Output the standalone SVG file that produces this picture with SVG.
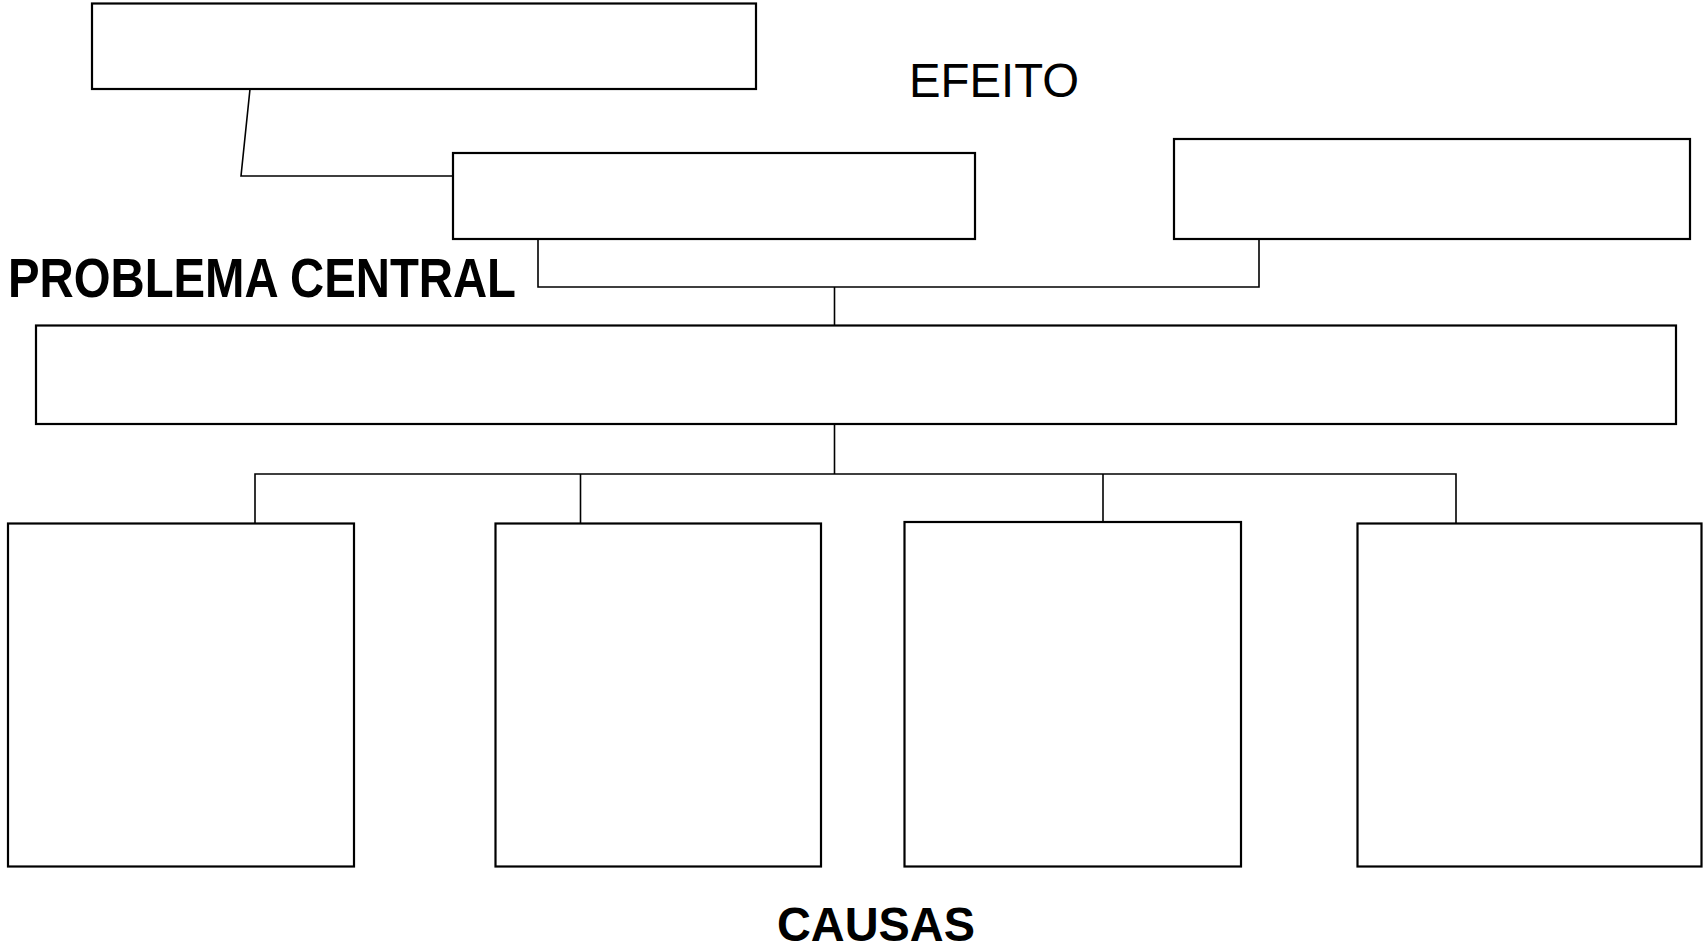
<svg xmlns="http://www.w3.org/2000/svg" width="1703" height="951" viewBox="0 0 1703 951">
<style>
.box{fill:#fff;stroke:#000;stroke-width:2.2}
.con{fill:none;stroke:#000;stroke-width:1.6}
.lbl{font-family:"Liberation Sans",Arial,sans-serif;fill:#000}
</style>
<rect width="1703" height="951" fill="#fff"/>
<g id="connectors">
<polyline class="con" points="250,89 241,176 453,176"/>
<polyline class="con" points="538,239 538,287 1259,287 1259,239"/>
<line class="con" x1="834.5" y1="287" x2="834.5" y2="325"/>
<line class="con" x1="834.5" y1="424" x2="834.5" y2="474"/>
<polyline class="con" points="255,523 255,474 1456,474 1456,523"/>
<line class="con" x1="580.5" y1="474" x2="580.5" y2="523"/>
<line class="con" x1="1103" y1="474" x2="1103" y2="522"/>
</g>
<g id="effect1"><rect class="box" x="92" y="3.5" width="664" height="85.5"/></g>
<g id="effect2"><rect class="box" x="453" y="153" width="522" height="86"/></g>
<g id="effect3"><rect class="box" x="1174" y="139" width="516" height="100"/></g>
<g id="central"><rect class="box" x="36" y="325.5" width="1640" height="98.5"/></g>
<g id="cause1"><rect class="box" x="8" y="523.5" width="346" height="343"/></g>
<g id="cause2"><rect class="box" x="495.5" y="523.5" width="325.5" height="343"/></g>
<g id="cause3"><rect class="box" x="904.5" y="522" width="336.5" height="344.5"/></g>
<g id="cause4"><rect class="box" x="1357.5" y="523.5" width="344" height="343"/></g>
<g id="labels">
<text class="lbl" x="909" y="97" font-size="48" textLength="170" lengthAdjust="spacingAndGlyphs">EFEITO</text>
<text class="lbl" x="8" y="297" font-size="55" font-weight="bold" textLength="508" lengthAdjust="spacingAndGlyphs">PROBLEMA CENTRAL</text>
<text class="lbl" x="777" y="941" font-size="48" font-weight="bold" textLength="198" lengthAdjust="spacingAndGlyphs">CAUSAS</text>
</g>
</svg>
